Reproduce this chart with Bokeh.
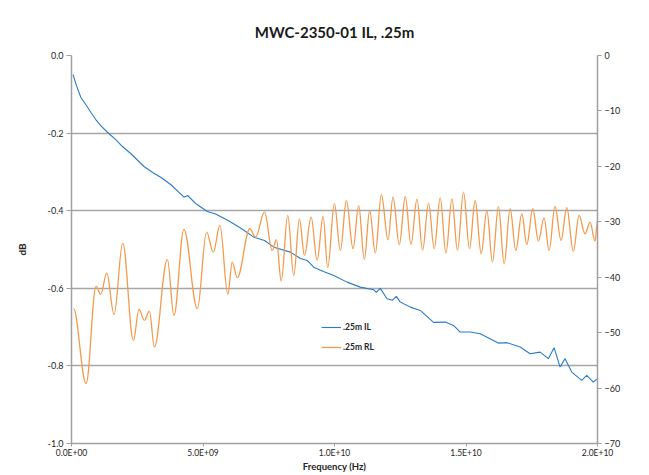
import numpy as np
from bokeh.plotting import figure
from bokeh.models import (Range1d, LinearAxis, FixedTicker, NumeralTickFormatter,
                          CustomJSTickFormatter, Legend, LegendItem, ColumnDataSource)
from bokeh.embed import file_html
from bokeh.resources import INLINE

# ---------------- data ----------------
title_text = "MWC-2350-01 IL, .25m"
il_label = ".25m IL"
rl_label = ".25m RL"

il_freq_ghz = [0.061, 0.163, 0.353, 0.543, 0.733, 0.923, 1.112, 1.367, 1.682, 1.936,
               2.251, 2.756, 3.087, 3.390, 3.770, 4.275, 4.415, 4.719, 5.163, 5.478,
               5.923, 6.428, 6.932, 7.339, 7.692, 8.326, 8.705, 8.960, 9.210, 9.579,
               9.970, 10.478, 10.983, 11.488, 11.590, 11.740, 11.997, 12.200, 12.350,
               12.502, 12.882, 13.261, 13.766, 14.210, 14.526, 14.780, 15.160, 15.539,
               16.234, 16.553, 17.058, 17.438, 17.818, 18.132, 18.349, 18.577, 18.767,
               19.021, 19.400, 19.590, 19.841, 20.0]
il_db = [-0.0492, -0.0724, -0.1076, -0.1264, -0.1463, -0.1651, -0.1805, -0.1978, -0.2166, -0.2346,
         -0.2526, -0.2861, -0.3016, -0.3137, -0.3325, -0.3652, -0.3608, -0.3814, -0.4020, -0.4085,
         -0.4239, -0.4445, -0.4682, -0.4767, -0.4940, -0.5068, -0.5231, -0.5282, -0.5455, -0.5565,
         -0.5668, -0.5841, -0.5970, -0.6037, -0.6106, -0.6003, -0.6268, -0.6310, -0.6208,
         -0.6356, -0.6485, -0.6570, -0.6879, -0.6871, -0.6956, -0.7128, -0.7128, -0.7170,
         -0.7412, -0.7401, -0.7515, -0.7685, -0.7644, -0.7813, -0.7530, -0.8030, -0.7813,
         -0.8159, -0.8372, -0.8244, -0.8416, -0.8329]

# RL: read at the turning points of the curve
rl_freq_ghz = [0.076, 0.554, 0.934, 1.112, 1.340, 1.617, 1.948, 2.354, 2.566, 2.771,
               2.961, 3.151, 3.645, 3.895, 4.275, 4.784, 5.137, 5.391, 5.642, 5.945,
               6.112, 6.302, 6.781, 6.997, 7.339, 7.631, 7.794, 7.973, 8.223, 8.451,
               8.667, 8.857, 9.112, 9.339, 9.567, 9.742, 9.996, 10.224, 10.452, 10.706,
               10.919, 11.135, 11.336, 11.553, 11.781, 12.035, 12.225, 12.464, 12.692, 12.908,
               13.136, 13.349, 13.576, 13.793, 14.020, 14.237, 14.465, 14.677, 14.905, 15.133,
               15.349, 15.577, 15.793, 16.006, 16.234, 16.450, 16.678, 16.894, 17.122, 17.312,
               17.540, 17.752, 17.969, 18.159, 18.386, 18.614, 18.831, 19.081, 19.298, 19.526,
               19.716, 19.906, 20.0]
rl_db = [-45.68, -59.20, -41.66, -43.10, -39.26, -46.71, -33.85, -51.40, -45.81, -47.79,
         -46.11, -52.60, -36.79, -46.89, -31.38, -45.68, -31.87, -35.48, -30.66, -43.10,
         -37.28, -40.09, -31.26, -32.77, -28.27, -35.17, -33.24, -40.70, -28.86, -39.68,
         -29.46, -36.07, -29.17, -36.97, -29.04, -38.29, -26.75, -35.17, -26.16, -34.86,
         -27.11, -36.79, -27.96, -35.66, -25.08, -33.24, -25.56, -34.14, -25.44, -34.09,
         -25.92, -35.17, -26.64, -34.86, -25.67, -35.66, -25.85, -35.17, -24.66, -34.86,
         -26.16, -35.77, -27.96, -37.28, -27.24, -37.57, -27.65, -35.17, -28.55, -34.09,
         -27.65, -33.49, -29.28, -35.17, -27.24, -33.37, -27.47, -35.35, -28.86, -32.16,
         -30.07, -33.49, -29.76]

left_ticks = [-1.0, -0.8, -0.6, -0.4, -0.2, 0.0]
right_ticks = [-70, -60, -50, -40, -30, -20, -10, 0]
x_ticks = [0, 5e9, 1e10, 1.5e10, 2e10]

IL_COLOR = "#2a7cc6"
RL_COLOR = "#f39a4c"
GRID = "#a6a6a6"
AXIS = "#a0a0a0"
TXT = "#262626"
FONT = "Lato"

# ---------------- figure ----------------
W, H = 649, 475
p = figure(width=W, height=H, output_backend="svg", toolbar_location=None,
           x_range=Range1d(0, 2e10), y_range=Range1d(-1.0, 0.0),
           min_border_left=71, min_border_right=W - 597, min_border_top=55,
           min_border_bottom=H - 443)
p.extra_y_ranges = {"rl": Range1d(-70, 0)}
p.outline_line_color = None
p.background_fill_color = "white"
p.border_fill_color = "white"

p.title.text = title_text
p.title.align = "center"
p.title.text_font = FONT
p.title.text_font_size = "15px"
p.title.text_font_style = "bold"
p.title.text_color = "#1a1a1a"
p.title.standoff = 29

# x axis
xa = p.xaxis[0]
xa.ticker = FixedTicker(ticks=x_ticks)
xa.formatter = CustomJSTickFormatter(code="""
var s = tick.toExponential(1).toUpperCase();
var parts = s.split('E');
var e = parseInt(parts[1]);
var a = Math.abs(e);
return parts[0] + 'E' + (e < 0 ? '-' : '+') + (a < 10 ? '0' + a : '' + a);
""")
xa.axis_label = "Frequency (Hz)"

# left axis
ya = p.yaxis[0]
ya.ticker = FixedTicker(ticks=left_ticks)
ya.formatter = NumeralTickFormatter(format="0.0")
ya.axis_label = "dB"

# right axis
ra = LinearAxis(y_range_name="rl", ticker=FixedTicker(ticks=right_ticks))
p.add_layout(ra, "right")

for ax in (xa, ya, ra):
    ax.axis_line_color = AXIS
    ax.axis_line_width = 1.5
    ax.major_tick_line_color = AXIS
    ax.major_tick_line_width = 1
    ax.major_tick_out = 5
    ax.major_tick_in = 0
    ax.minor_tick_line_color = None
    ax.major_label_text_font = FONT
    ax.major_label_text_font_size = "9px"
    ax.major_label_text_color = TXT
    ax.axis_label_text_font = FONT
    ax.axis_label_text_font_size = "10px"
    ax.axis_label_text_font_style = "bold"
    ax.axis_label_text_color = TXT

xa.major_tick_out = 3
xa.major_label_standoff = 1
xa.axis_label_standoff = 0
xa.major_label_text_font_size = "8.5px"
xa.axis_label_text_font_size = "9.5px"
ya.major_label_standoff = 3
ya.axis_label_standoff = 17
ra.major_label_standoff = 3
ra.major_tick_out = 4

p.xgrid.grid_line_color = None
p.ygrid.grid_line_color = GRID
p.ygrid.grid_line_width = 1.6
p.ygrid.ticker = FixedTicker(ticks=left_ticks)

# ---------------- series ----------------
il_src = ColumnDataSource(dict(f=np.array(il_freq_ghz) * 1e9, v=np.array(il_db)))
r_il = p.line("f", "v", source=il_src, line_color=IL_COLOR, line_width=1.1)

fx = np.array(rl_freq_ghz) * 1e9
fy = np.array(rl_db)
dx = np.diff(fx)
bz = ColumnDataSource(dict(x0=fx[:-1], y0=fy[:-1], x1=fx[1:], y1=fy[1:],
                           cx0=fx[:-1] + 0.364 * dx, cy0=fy[:-1],
                           cx1=fx[1:] - 0.364 * dx, cy1=fy[1:]))
p.bezier(x0="x0", y0="y0", x1="x1", y1="y1", cx0="cx0", cy0="cy0", cx1="cx1", cy1="cy1",
         source=bz, line_color=RL_COLOR, line_width=1.3, y_range_name="rl")
# single-point line: draws nothing in the plot, only provides the legend swatch
r_rl_leg = p.line(x=fx[:1], y=fy[:1], line_color=RL_COLOR, line_width=1.3, y_range_name="rl")

legend = Legend(items=[LegendItem(label=il_label, renderers=[r_il]),
                       LegendItem(label=rl_label, renderers=[r_rl_leg])],
                location=(250, 89), orientation="vertical")
legend.border_line_color = None
legend.background_fill_alpha = 0
legend.padding = 0
legend.margin = 0
legend.spacing = 6
legend.glyph_width = 20
legend.glyph_height = 14
legend.label_height = 14
legend.label_standoff = 2
legend.label_text_font = FONT
legend.label_text_font_size = "8.5px"
legend.label_text_font_style = "bold"
legend.label_text_color = TXT
p.add_layout(legend, "center")

open("out.html", "w").write(file_html(p, INLINE))
